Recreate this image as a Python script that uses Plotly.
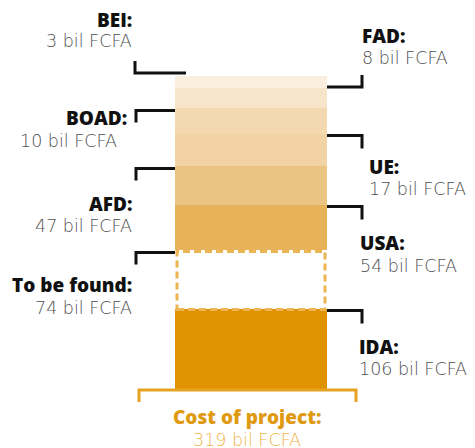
import plotly.graph_objects as go

# ---- data (bottom to top of the stacked bar) ----
funders = ["IDA", "To be found", "USA", "AFD", "UE", "BOAD", "FAD", "BEI"]
amounts = [106, 74, 54, 47, 17, 10, 8, 3]          # bil FCFA
drawn_heights = [81, 59, 45, 39, 32, 26, 20, 12]   # segment heights as drawn (not to scale)
total_cost = 319
unit = "bil FCFA"

# ---- styles ----
seg_colors = ["#E09200", "#FFFFFF", "#E8B25A", "#EBC382", "#F2D3A6", "#F4D9B0", "#F7E4CA", "#FAEFDF"]
sides = ["right", "left", "right", "left", "right", "left", "right", "left"]
FONT_B = "Open Sans"
FONT_L = "DejaVu Sans"
BAR_X, BAR_W = 251, 152

fig = go.Figure()

bases = []
acc = 0
for h in drawn_heights:
    bases.append(acc)
    acc += h

for name, h, b, c in zip(funders, drawn_heights, bases, seg_colors):
    fig.add_trace(go.Bar(x=[BAR_X], y=[h], base=[b], width=BAR_W,
                         marker=dict(color=c, line=dict(width=0)),
                         name=name, hoverinfo="skip", showlegend=False))

shapes = []
# dashed outline of the unfunded part
i_tbf = funders.index("To be found")
shapes.append(dict(type="rect", xref="x", yref="y",
                   x0=BAR_X - BAR_W / 2 + 2, x1=BAR_X + BAR_W / 2 - 2,
                   y0=bases[i_tbf] - 0.5, y1=bases[i_tbf] + drawn_heights[i_tbf] - 1.5,
                   line=dict(color="#EDB453", width=3, dash="7px,4px"),
                   fillcolor="rgba(0,0,0,0)"))

# leader lines
left_x = BAR_X - BAR_W / 2
right_x = BAR_X + BAR_W / 2
for i, (name, side) in enumerate(zip(funders, sides)):
    ytop = bases[i] + drawn_heights[i]
    if name == "BEI":
        y = ytop + 3
        path = f"M {left_x - 40},{y + 12} L {left_x - 40},{y} L {left_x + 11},{y}"
    elif name == "FAD":
        y = ytop + 1
        path = f"M {right_x},{y} L {right_x + 35},{y} L {right_x + 35},{y + 12}"
    elif side == "left":
        y = ytop - 2.5
        path = f"M {left_x - 39},{y - 12} L {left_x - 39},{y} L {left_x},{y}"
    else:
        y = ytop - 1.5
        path = f"M {right_x},{y} L {right_x + 35},{y} L {right_x + 35},{y - 13}"
    shapes.append(dict(type="path", xref="x", yref="y", path=path,
                       line=dict(color="#111111", width=3)))

# bottom bracket
shapes.append(dict(type="path", xref="x", yref="y",
                   path="M 139,-12 L 139,0 L 356,0 L 356,-12",
                   line=dict(color="#E5A322", width=3)))

# label placement (pixel rows of name / value, x anchor)
label_pos = {
    "BEI":         dict(x=134, xa="right", yn=20,  yv=41),
    "FAD":         dict(x=360, xa="left",  yn=36,  yv=58),
    "BOAD":        dict(x=129, xa="right", yn=118, yv=141, xv=119),
    "UE":          dict(x=367, xa="left",  yn=167, yv=189),
    "AFD":         dict(x=134, xa="right", yn=204, yv=226),
    "USA":         dict(x=358, xa="left",  yn=243, yv=266),
    "To be found": dict(x=134, xa="right", yn=285, yv=308),
    "IDA":         dict(x=357, xa="left",  yn=347, yv=369),
}

def py(p):  # page pixel row -> y data (bar base sits at pixel row 390)
    return 390 - p

annotations = []
for name, amt in zip(funders, amounts):
    lp = label_pos[name]
    annotations.append(dict(x=lp["x"], y=py(lp["yn"]), xref="x", yref="y",
                            text=f"{name}:", showarrow=False, xanchor=lp["xa"], yanchor="middle",
                            font=dict(family=FONT_B, size=19, color="#111111", weight=800)))
    annotations.append(dict(x=lp.get("xv", lp["x"]), y=py(lp["yv"]), xref="x", yref="y",
                            text=f"{amt} {unit}", showarrow=False, xanchor=lp["xa"], yanchor="middle",
                            font=dict(family=FONT_L, size=17.5, color="#505050", weight=200)))

annotations.append(dict(x=BAR_X - 4, y=py(417), xref="x", yref="y", text="Cost of project:",
                        showarrow=False, xanchor="center", yanchor="middle",
                        font=dict(family=FONT_B, size=19, color="#E09A12", weight=800)))
annotations.append(dict(x=BAR_X - 4, y=py(440), xref="x", yref="y", text=f"{total_cost} {unit}",
                        showarrow=False, xanchor="center", yanchor="middle",
                        font=dict(family=FONT_L, size=17.5, color="#F0B54A", weight=200)))

# the page body adds an 8px margin: the figure spans page pixels 8..475 / 8..448
fig.update_layout(
    width=467, height=440,
    margin=dict(l=0, r=0, t=0, b=0),
    paper_bgcolor="white", plot_bgcolor="white",
    barmode="overlay", bargap=0,
    xaxis=dict(range=[8, 475], visible=False, fixedrange=True),
    yaxis=dict(range=[py(448), py(8)], visible=False, fixedrange=True),
    shapes=shapes, annotations=annotations,
    showlegend=False,
)

fig.write_html("out.html")
